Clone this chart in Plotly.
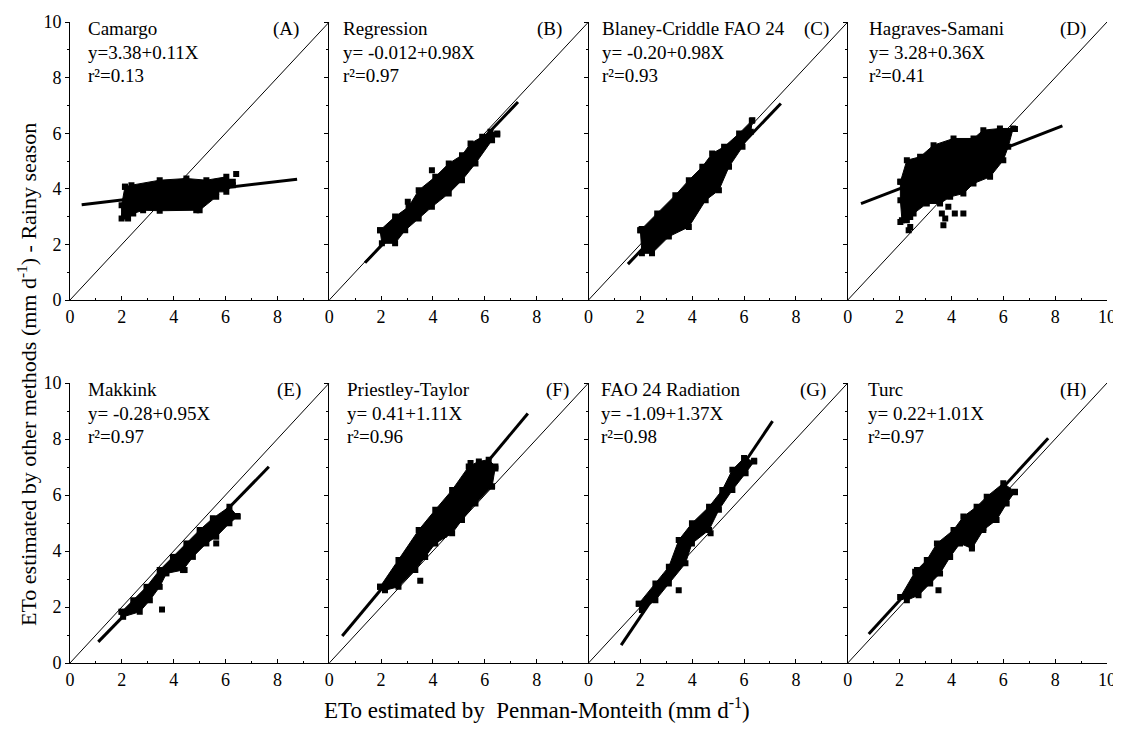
import plotly.graph_objects as go

W, H = 1121, 735

names = ["Camargo", "Regression", "Blaney-Criddle FAO 24", "Hagraves-Samani",
         "Makkink", "Priestley-Taylor", "FAO 24 Radiation", "Turc"]
letters = ["(A)", "(B)", "(C)", "(D)", "(E)", "(F)", "(G)", "(H)"]
equations = ["y=3.38+0.11X", "y= -0.012+0.98X", "y= -0.20+0.98X", "y= 3.28+0.36X",
             "y= -0.28+0.95X", "y= 0.41+1.11X", "y= -1.09+1.37X", "y= 0.22+1.01X"]
r2_text = ["r²=0.13", "r²=0.97", "r²=0.93", "r²=0.41",
           "r²=0.97", "r²=0.96", "r²=0.98", "r²=0.97"]
intercepts = [3.38, -0.012, -0.20, 3.28, -0.28, 0.41, -1.09, 0.22]
slopes = [0.11, 0.98, 0.98, 0.36, 0.95, 1.11, 1.37, 1.01]
fit_x_start = [0.45, 1.38, 1.52, 0.51, 1.09, 0.50, 1.26, 0.81]
fit_x_end = [8.76, 7.28, 7.42, 8.28, 7.67, 7.66, 7.10, 7.73]

# dense point clouds: outline of the solid black mass
cloud_a_x = [2.12, 2.37, 3.46, 4.49, 5.26, 6.03, 6.28, 6.28, 6.03, 5.64, 5.64, 5.00, 4.87, 3.46, 2.82, 2.44, 2.24, 1.99, 1.99]
cloud_a_y = [4.07, 4.13, 4.31, 4.37, 4.31, 4.43, 4.25, 4.13, 3.89, 3.89, 3.71, 3.23, 3.23, 3.21, 3.23, 3.11, 2.93, 2.93, 3.41]
cloud_b_x = [1.96, 2.54, 3.06, 3.45, 4.09, 4.61, 5.12, 5.45, 5.90, 6.22, 6.48, 6.28, 5.64, 5.12, 4.61, 3.96, 3.45, 2.93, 2.54, 2.03]
cloud_b_y = [2.51, 3.00, 3.35, 3.95, 4.43, 4.91, 5.21, 5.63, 5.87, 6.05, 5.99, 5.75, 4.91, 4.31, 3.83, 3.35, 2.93, 2.51, 2.04, 2.04]
cloud_c_x = [2.00, 2.65, 3.35, 3.87, 4.39, 4.77, 5.23, 5.81, 6.32, 6.26, 5.94, 5.42, 5.03, 4.52, 3.87, 3.10, 2.45, 2.06]
cloud_c_y = [2.51, 3.11, 3.77, 4.31, 4.79, 5.27, 5.51, 5.99, 6.47, 6.05, 5.51, 4.79, 3.95, 3.59, 2.63, 2.28, 1.68, 1.68]
cloud_d_x = [2.03, 2.28, 2.79, 3.31, 4.08, 4.85, 5.23, 5.87, 6.38, 6.19, 6.00, 5.49, 4.85, 4.46, 3.95, 3.56, 3.05, 2.54, 2.28, 2.09, 2.03]
cloud_d_y = [4.25, 5.03, 5.15, 5.57, 5.81, 5.81, 6.11, 6.17, 6.17, 5.51, 5.03, 4.43, 4.19, 3.83, 3.71, 3.47, 3.47, 3.11, 2.87, 2.87, 3.59]
cloud_e_x = [1.99, 2.44, 2.95, 3.46, 3.97, 4.49, 5.00, 5.51, 6.15, 6.47, 6.15, 5.64, 5.26, 4.74, 4.36, 3.72, 3.46, 3.08, 2.69, 2.05]
cloud_e_y = [1.83, 2.24, 2.72, 3.32, 3.79, 4.27, 4.75, 5.17, 5.58, 5.23, 4.99, 4.51, 4.27, 3.79, 3.32, 3.20, 2.72, 2.24, 1.83, 1.65]
cloud_f_x = [1.96, 2.67, 3.45, 4.09, 4.74, 5.38, 5.77, 6.15, 6.41, 6.28, 5.64, 5.12, 4.74, 4.09, 3.70, 3.32, 2.67, 2.15]
cloud_f_y = [2.72, 3.68, 4.75, 5.47, 6.18, 7.02, 7.20, 7.26, 7.02, 6.30, 5.70, 5.11, 4.63, 4.27, 3.79, 3.32, 2.72, 2.60]
cloud_g_x = [1.94, 2.58, 3.10, 3.48, 3.99, 4.65, 5.16, 5.55, 6.00, 6.39, 6.06, 5.55, 5.03, 4.65, 3.99, 3.74, 3.10, 2.58, 2.06]
cloud_g_y = [2.12, 2.84, 3.44, 4.39, 4.99, 5.58, 6.18, 6.90, 7.32, 7.20, 6.78, 6.18, 5.47, 4.75, 4.27, 3.56, 2.84, 2.24, 1.89]
cloud_h_x = [2.03, 2.60, 3.05, 3.44, 4.08, 4.46, 4.97, 5.36, 6.00, 6.45, 6.13, 5.74, 5.23, 4.79, 4.33, 3.95, 3.56, 3.18, 2.73, 2.28]
cloud_h_y = [2.36, 3.26, 3.68, 4.27, 4.75, 5.23, 5.58, 5.94, 6.42, 6.12, 5.70, 5.11, 4.75, 4.09, 4.27, 3.79, 3.20, 2.84, 2.42, 2.24]

# isolated points outside the solid mass
out_a_x = [6.41, 2.10]
out_a_y = [4.53, 3.00]
out_b_x = [3.96, 3.03, 6.48]
out_b_y = [4.67, 3.53, 5.95]
out_c_x = [6.30, 2.05]
out_c_y = [6.45, 2.55]
out_d_x = [2.03, 2.35, 2.41, 3.69, 3.88, 4.13, 4.46, 3.63, 3.76, 2.41, 6.45]
out_d_y = [2.81, 2.51, 2.63, 2.69, 3.35, 3.11, 3.11, 3.11, 2.93, 2.99, 6.15]
out_e_x = [3.55, 4.42, 5.64, 6.45]
out_e_y = [1.91, 3.32, 4.27, 5.25]
out_f_x = [3.51, 4.41, 6.28, 5.45, 6.41]
out_f_y = [2.94, 4.57, 6.30, 7.14, 6.95]
out_g_x = [3.48, 4.71, 6.39]
out_g_y = [2.60, 4.63, 7.22]
out_h_x = [3.50, 2.67, 4.79, 5.23, 5.67, 6.45]
out_h_y = [2.60, 3.32, 4.13, 4.82, 5.11, 6.10]

clouds = [(cloud_a_x, cloud_a_y), (cloud_b_x, cloud_b_y), (cloud_c_x, cloud_c_y), (cloud_d_x, cloud_d_y),
          (cloud_e_x, cloud_e_y), (cloud_f_x, cloud_f_y), (cloud_g_x, cloud_g_y), (cloud_h_x, cloud_h_y)]
outliers = [(out_a_x, out_a_y), (out_b_x, out_b_y), (out_c_x, out_c_y), (out_d_x, out_d_y),
            (out_e_x, out_e_y), (out_f_x, out_f_y), (out_g_x, out_g_y), (out_h_x, out_h_y)]

tick_vals = [0, 2, 4, 6, 8, 10]

# layout (pixels in the screenshot; the page body adds an 8 px offset)
OFF = 8
left_px, right_px = 70 - OFF, 1107 - OFF
row_px = [(22 - OFF, 300 - OFF), (383 - OFF, 663 - OFF)]
name_x = [0.62, 0.47, 0.45, 0.76, 0.62, 0.60, 0.39, 0.70]
letter_x = [8.35, 8.5, 8.79, 8.7, 8.46, 8.8, 8.65, 8.7]
txt_font = dict(family="Liberation Serif", size=19, color="black")

fig = go.Figure()
colw = (right_px - left_px) / 4
annotations = []
for i in range(8):
    r, c = divmod(i, 4)
    k = i + 1
    xa = "x" if k == 1 else f"x{k}"
    ya = "y" if k == 1 else f"y{k}"
    x0 = (left_px + c * colw) / W
    x1 = (left_px + (c + 1) * colw) / W
    y0 = 1 - row_px[r][1] / H
    y1 = 1 - row_px[r][0] / H
    xtext = [str(v) for v in tick_vals]
    if c < 3:
        xtext[-1] = " "
    fig.update_layout(**{
        ("xaxis" if k == 1 else f"xaxis{k}"): dict(
            domain=[x0, x1], range=[0, 10], anchor=ya, showline=True, linecolor="black", linewidth=1,
            showgrid=False, zeroline=False, tickmode="array", tickvals=tick_vals, ticktext=xtext,
            ticks="inside", ticklen=4, tickcolor="black", automargin=False,
            minor=dict(tickvals=[1, 3, 5, 7, 9], ticks="inside", ticklen=2, tickcolor="black", showgrid=False),
            tickfont=dict(family="Liberation Serif", size=18, color="black")),
        ("yaxis" if k == 1 else f"yaxis{k}"): dict(
            domain=[y0, y1], range=[0, 10], anchor=xa, showline=True, linecolor="black", linewidth=1,
            showgrid=False, zeroline=False, tickmode="array", tickvals=tick_vals,
            showticklabels=(c == 0), ticks="outside", ticklen=4, tickcolor="black", automargin=False,
            minor=dict(tickvals=[1, 3, 5, 7, 9], ticks="outside", ticklen=2, tickcolor="black", showgrid=False),
            tickfont=dict(family="Liberation Serif", size=18, color="black")),
    })
    # 1:1 line
    fig.add_trace(go.Scatter(x=[0, 10], y=[0, 10], mode="lines", line=dict(color="black", width=1),
                             xaxis=xa, yaxis=ya, showlegend=False, hoverinfo="skip"))
    # point cloud mass
    cx, cy = clouds[i]
    fig.add_trace(go.Scatter(x=cx + [cx[0]], y=cy + [cy[0]], mode="lines+markers", fill="toself",
                             fillcolor="black", line=dict(color="black", width=1),
                             marker=dict(symbol="square", size=6, color="black"),
                             xaxis=xa, yaxis=ya, showlegend=False))
    ox, oy = outliers[i]
    fig.add_trace(go.Scatter(x=ox, y=oy, mode="markers", marker=dict(symbol="square", size=6, color="black"),
                             xaxis=xa, yaxis=ya, showlegend=False))
    # regression line
    fx = [fit_x_start[i], fit_x_end[i]]
    fy = [intercepts[i] + slopes[i] * v for v in fx]
    fig.add_trace(go.Scatter(x=fx, y=fy, mode="lines", line=dict(color="black", width=3),
                             xaxis=xa, yaxis=ya, showlegend=False))
    # texts
    for txt, yy in ((names[i], 9.78), (equations[i], 8.92), (r2_text[i], 8.09)):
        annotations.append(dict(x=name_x[i], y=yy, xref=xa, yref=ya, text=txt, showarrow=False,
                                xanchor="left", yanchor="middle", font=txt_font))
    annotations.append(dict(x=letter_x[i], y=9.75, xref=xa, yref=ya, text=letters[i], showarrow=False,
                            xanchor="center", yanchor="middle", font=txt_font))

annotations.append(dict(x=(27 - OFF) / W, y=1 - (375 - OFF) / H, xref="paper", yref="paper", showarrow=False,
                        text="ETo estimated by other methods (mm d<sup>-1</sup>) - Rainy season",
                        textangle=-90, xanchor="center", yanchor="middle",
                        font=dict(family="Liberation Serif", size=22, color="black")))
annotations.append(dict(x=(537 - OFF) / W, y=1 - (708 - OFF) / H, xref="paper", yref="paper", showarrow=False,
                        text="ETo estimated by  Penman-Monteith (mm d<sup>-1</sup>)",
                        xanchor="center", yanchor="middle",
                        font=dict(family="Liberation Serif", size=23, color="black")))

fig.update_layout(width=W, height=H, margin=dict(l=0, r=0, t=0, b=0, autoexpand=False),
                  paper_bgcolor="white", plot_bgcolor="white", annotations=annotations,
                  showlegend=False)
fig.write_html("out.html")
